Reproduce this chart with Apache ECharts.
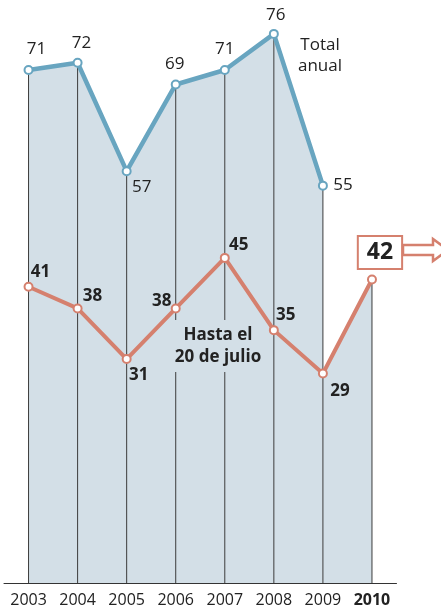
<!DOCTYPE html>
<html>
<head>
<meta charset="utf-8">
<script src="https://cdn.jsdelivr.net/npm/echarts@6/dist/echarts.min.js"></script>
<style>
html, body { margin: 0; padding: 0; background: #fff; }
#chart { width: 441px; height: 609px; }
</style>
</head>
<body>
<div id="chart"></div>
<script>
// datos
var years = ['2003', '2004', '2005', '2006', '2007', '2008', '2009', '2010'];
var totalAnual = [71, 72, 57, 69, 71, 76, 55, null];
var hastaJulio = [41, 38, 31, 38, 45, 35, 29, 42];

var blue = '#68a5c0';
var orange = '#d5806e';
var fill = '#d3dfe7';
var font = '"Open Sans", "Noto Sans", sans-serif';

// desplazamiento de cada etiqueta respecto al punto
var blueOffsets = [[8, -21], [4, -20], [15, 16], [-1, -20], [0, -21], [2, -19], [20, 0], [0, 0]];
var orangeOffsets = [[12, -15], [15, -12], [12, 16], [-14, -7], [14, -13], [12, -15], [17, 18], [8, -27]];

// líneas verticales: hasta el total, o hasta el dato parcial si no hay total
var dropTops = years.map(function (y, i) {
	return totalAnual[i] != null ? totalAnual[i] : hastaJulio[i];
});
// relleno del último tramo (2009-2010) bajo la línea naranja
var lastFill = hastaJulio.map(function (v, i) {
	return i >= 6 ? v : null;
});

var blueData = totalAnual.map(function (v, i) {
	return { value: v, label: { offset: blueOffsets[i] } };
});
var orangeData = hastaJulio.map(function (v, i) {
	var item = { value: v, label: { offset: orangeOffsets[i] } };
	if (i === years.length - 1) {
		item.label.fontSize = 23;
		item.label.lineHeight = 24;
		item.label.backgroundColor = '#fff';
		item.label.borderColor = orange;
		item.label.borderWidth = 2;
		item.label.padding = [4, 8, 3, 8];
	}
	return item;
});

var myChart = echarts.init(document.getElementById('chart'));

var option = {
	animation: false,
	textStyle: { fontFamily: font },
	grid: { left: 4, right: 44.5, top: 5, bottom: 26 },
	xAxis: {
		type: 'category',
		data: years,
		boundaryGap: true,
		axisTick: { show: false },
		axisLine: { lineStyle: { color: '#333', width: 1 } },
		axisLabel: {
			interval: 0,
			margin: 9,
			fontSize: 16,
			color: '#222',
			fontFamily: font,
			formatter: function (v) {
				return v === '2010' ? '{b|' + v + '}' : v;
			},
			rich: { b: { fontWeight: 'bold', fontSize: 16, color: '#222', fontFamily: font } }
		}
	},
	yAxis: { type: 'value', min: 0, max: 80, show: false },
	series: [
		{
			type: 'line', z: 1, data: totalAnual, symbol: 'none', silent: true,
			lineStyle: { width: 0 }, areaStyle: { color: fill, opacity: 1 }
		},
		{
			type: 'line', z: 1, data: lastFill, symbol: 'none', silent: true,
			lineStyle: { width: 0 }, areaStyle: { color: fill, opacity: 1 }
		},
		{
			type: 'bar', z: 2, data: dropTops, barWidth: 1, silent: true,
			itemStyle: { color: '#3c3c3c' }
		},
		{
			name: 'Total anual', type: 'line', z: 3, data: blueData,
			symbol: 'circle', symbolSize: 8,
			lineStyle: { color: blue, width: 4.5 },
			itemStyle: { color: '#fff', borderColor: blue, borderWidth: 2 },
			label: { show: true, position: 'inside', fontSize: 17, color: '#222', fontFamily: font },
			emphasis: { disabled: true }
		},
		{
			name: 'Hasta el 20 de julio', type: 'line', z: 4, data: orangeData,
			symbol: 'circle', symbolSize: 8,
			lineStyle: { color: orange, width: 4 },
			itemStyle: { color: '#fff', borderColor: orange, borderWidth: 2 },
			label: { show: true, position: 'inside', fontSize: 17, fontWeight: 'bold', color: '#222', fontFamily: font },
			emphasis: { disabled: true }
		}
	],
	graphic: [
		{
			type: 'text', z: 10,
			style: {
				x: 320, y: 56, text: 'Total\nanual', textAlign: 'center', textVerticalAlign: 'middle',
				font: '17px ' + font, fill: '#222', lineHeight: 21
			}
		},
		{
			type: 'text', z: 10,
			style: {
				x: 218, y: 346, text: 'Hasta el\n20 de julio', textAlign: 'center', textVerticalAlign: 'middle',
				font: 'bold 17px ' + font, fill: '#222', lineHeight: 22,
				backgroundColor: fill, padding: [2, 3, 6, 3]
			}
		},
		{
			type: 'polygon', z: 10,
			shape: { points: [[403, 245], [433, 245], [433, 239], [448, 250], [433, 261], [433, 255], [403, 255]] },
			style: { fill: '#fff', stroke: orange, lineWidth: 2.5 }
		}
	]
};

myChart.setOption(option);
</script>
</body>
</html>
